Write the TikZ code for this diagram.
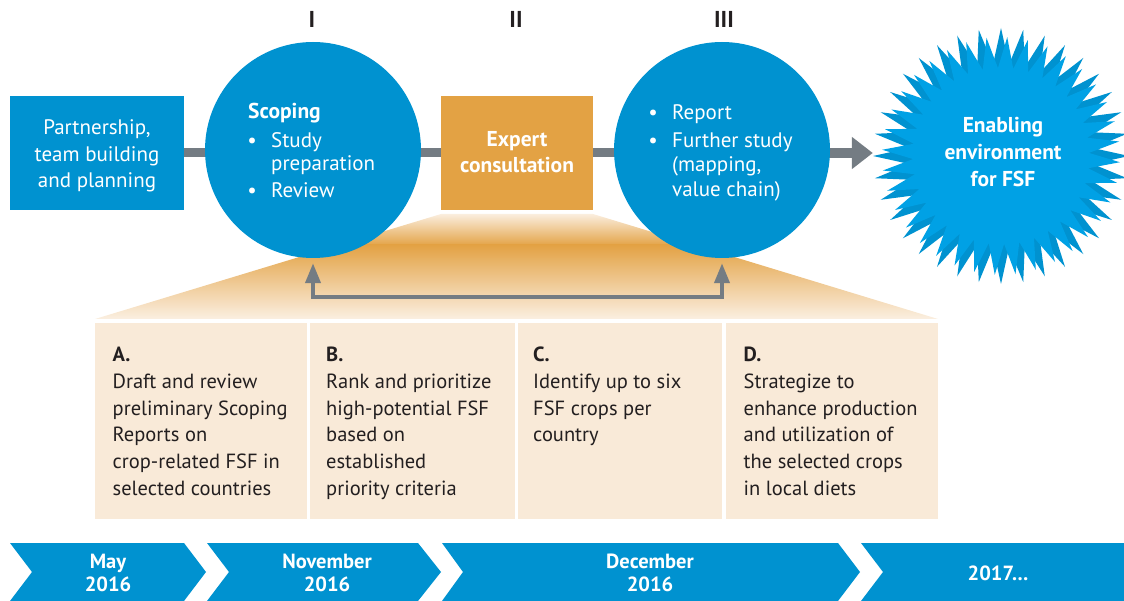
\documentclass[tikz,border=0pt]{standalone}
\usepackage{fontspec}
\setmainfont{PT Sans}
\usetikzlibrary{arrows.meta,calc}
\definecolor{fsblue}{RGB}{0,146,208}
\definecolor{stardark}{RGB}{0,146,208}
\definecolor{starlight}{RGB}{0,161,229}
\definecolor{fsorange}{RGB}{227,162,68}
\definecolor{fsgray}{RGB}{116,124,131}
\definecolor{fsbeige}{RGB}{249,234,216}
\definecolor{fspale}{RGB}{251,240,227}
\definecolor{fstext}{RGB}{35,31,32}
\pgfdeclarelayer{bg}
\pgfsetlayers{bg,main}
\tikzset{
  bluebox/.style={rectangle, fill=fsblue, inner sep=0, minimum width=174pt, minimum height=114pt},
  phase/.style={circle, fill=fsblue, inner sep=0, minimum size=216pt},
  cellbox/.style={rectangle, fill=fsbeige, inner sep=0, minimum height=196pt},
  wtxt/.style={text=white, font=\fontsize{21}{25}\selectfont, inner sep=0, anchor=base},
  wbold/.style={wtxt, font=\fontsize{21.5}{25}\selectfont\bfseries},
  wleft/.style={wtxt, anchor=base west},
  roman/.style={text=fstext, font=\fontsize{23}{26}\selectfont\bfseries, inner sep=0, anchor=base},
  celltxt/.style={text=fstext, font=\fontsize{20.5}{26}\selectfont, inner sep=0, anchor=base west},
  cellhead/.style={celltxt, font=\fontsize{20.5}{26}\selectfont\bfseries},
  timetxt/.style={text=white, font=\fontsize{20.5}{24}\selectfont\bfseries, inner sep=0, anchor=base},
  bar/.style={draw=fsgray, line width=9pt},
}
\begin{document}
\begin{tikzpicture}[x=1pt,y=-1pt]
\useasboundingbox (0,0) rectangle (1124,601);

% main phase nodes
\node[bluebox] (b1) at (97,153) {};
\node[bluebox, fill=fsorange, minimum width=152pt] (b2) at (517,153) {};
\node[phase] (c1) at (313,150) {};
\node[phase] (c3) at (722,150) {};
\node[circle, inner sep=0, minimum size=256pt] (star) at (1001,156) {};

% bottom cells
\node[cellbox, minimum width=212pt] (cellA) at (201,421) {};
\node[cellbox, minimum width=205pt] (cellB) at (412.5,421) {};
\node[cellbox, minimum width=204pt] (cellC) at (620,421) {};
\node[cellbox, minimum width=212pt] (cellD) at (832,421) {};

\begin{pgfonlayer}{bg}
  % funnel
  \begin{scope}
    \clip (441,214) -- (593,214) -- (938,319) -- (95,319) -- cycle;
    \shade[top color=fspale, bottom color=fsorange] (95,213) rectangle (938,246);
    \shade[top color=fsorange, bottom color=fspale] (95,245) rectangle (938,320);
  \end{scope}
  % connector bars
  \draw[bar] (b1.east) -- (b1.east -| c1.center);
  \draw[bar] (b2.west) -- (b2.west -| c1.center);
  \draw[bar] (b2.east) -- (b2.east -| c3.center);
  \draw[fsgray, line width=10pt, -{Triangle[width=31pt,length=21pt]}] (c3.center |- b2.east) -- (star.west |- b2.east);
\end{pgfonlayer}

% starburst
\begin{scope}
  \clip (0,0) rectangle (1124,601);
  \fill[stardark, shift={(1001,156)}] plot[samples at={0,...,71}] ({180+5*\x}:{ifthenelse(mod(\x,2)==0,128,92)}) -- cycle;
  \fill[starlight, shift={(1001,156)}] plot[samples at={0,...,71}] ({183+5*\x}:{ifthenelse(mod(\x,2)==0,119,88)}) -- cycle;
\end{scope}

% feedback arrow
\coordinate (fbL) at (313,297);
\coordinate (fbR) at (722,297);
\draw[fsgray, line width=4pt, {Triangle[width=15pt,length=20pt]}-{Triangle[width=15pt,length=20pt]}]
  ([yshift=-5pt]c1.south) -- (fbL) -- (fbR) -- ([yshift=-5pt]c3.south);

% roman numerals
\node[roman] (r1) at (312,28) {I};
\node[roman] (r2) at (516,28) {II};
\node[roman] (r3) at (724,28) {III};

% box 1 text
\node[wtxt] (t11) at (97,135) {Partnership,};
\node[wtxt] (t12) at (97,161.5) {team building};
\node[wtxt] (t13) at (97,188) {and planning};

% circle I text
\node[wbold, anchor=base west] (t21) at (248,119) {Scoping};
\node[wtxt] (u21) at (252,148) {•};
\node[wleft] (t22) at (271,148) {Study};
\node[wleft] (t23) at (271,171) {preparation};
\node[wtxt] (u22) at (252,198) {•};
\node[wleft] (t24) at (271,198) {Review};

% box II text
\node[wbold] (t31) at (517,146.5) {Expert};
\node[wbold] (t32) at (517,173) {consultation};

% circle III text
\node[wtxt] (u41) at (653,120) {•};
\node[wleft] (t41) at (672,120) {Report};
\node[wtxt] (u42) at (653,148) {•};
\node[wleft] (t42) at (672,148) {Further study};
\node[wleft] (t43) at (672,172) {(mapping,};
\node[wleft] (t44) at (672,197) {value chain)};

% star text
\node[wbold] (t51) at (1003,133) {Enabling};
\node[wbold] (t52) at (1003,160) {environment};
\node[wbold] (t53) at (1003,186.5) {for FSF};

% cell texts
\node[cellhead] (hA) at (112.5,362) {A.};
\foreach \t [count=\i] in {Draft and review, preliminary Scoping, Reports on, crop-related FSF in, selected countries}
  \node[celltxt] (a\i) at (112.5,{361.7+26.7*\i}) {\t};
\node[cellhead] (hB) at (326,362) {B.};
\foreach \t [count=\i] in {Rank and prioritize, high-potential FSF, based on, established, priority criteria}
  \node[celltxt] (bb\i) at (326,{361.7+26.7*\i}) {\t};
\node[cellhead] (hC) at (533,362) {C.};
\foreach \t [count=\i] in {Identify up to six, FSF crops per, country}
  \node[celltxt] (cc\i) at (533,{361.7+26.7*\i}) {\t};
\node[cellhead] (hD) at (743.5,362) {D.};
\foreach \t [count=\i] in {Strategize to, enhance production, and utilization of, the selected crops, in local diets}
  \node[celltxt] (dd\i) at (743.5,{361.7+26.7*\i}) {\t};

% timeline chevrons
\fill[fsblue] (10,543) -- (184,543) -- (206,572) -- (184,601) -- (10,601) -- (32,572) -- cycle;
\fill[fsblue] (207,543) -- (418,543) -- (441,572) -- (418,601) -- (207,601) -- (229,572) -- cycle;
\fill[fsblue] (442,543) -- (838,543) -- (860,572) -- (838,601) -- (442,601) -- (463,572) -- cycle;
\fill[fsblue] (861,543) -- (1124,543) -- (1124,601) -- (861,601) -- (883,572) -- cycle;
\node[timetxt] (m1) at (108,568) {May};
\node[timetxt] (y1) at (108,591.7) {2016};
\node[timetxt] (m2) at (327,568) {November};
\node[timetxt] (y2) at (327,591.7) {2016};
\node[timetxt] (m3) at (650,568) {December};
\node[timetxt] (y3) at (650,591.7) {2016};
\node[timetxt] (y4) at (998,580) {2017…};
\end{tikzpicture}
\end{document}
